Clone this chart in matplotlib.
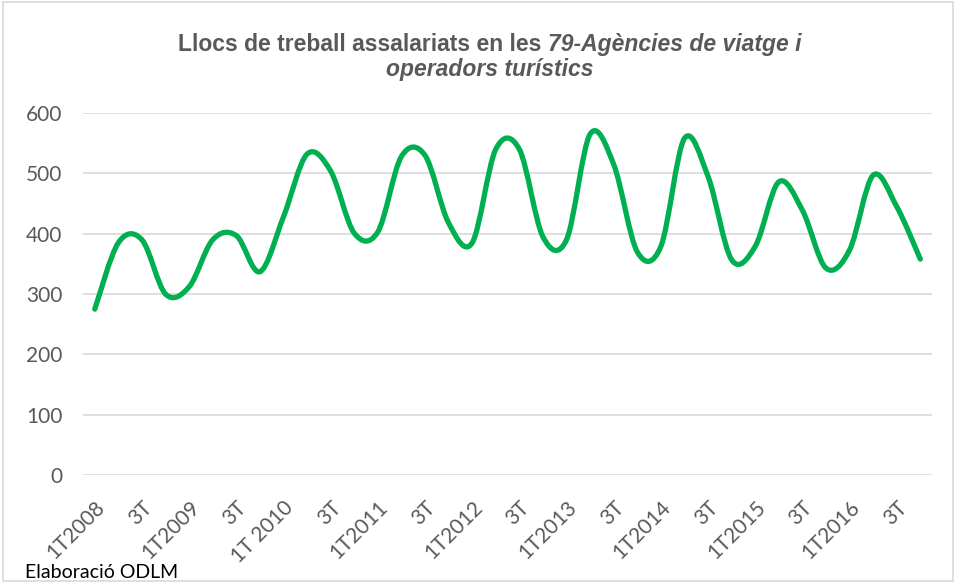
import numpy as np
import matplotlib
matplotlib.use("Agg")
import matplotlib.pyplot as plt
from matplotlib.path import Path
from matplotlib.patches import PathPatch, Rectangle

# ---------------------------------------------------------
# Dades (llocs de treball assalariats, trimestral 2008-2016)
# ---------------------------------------------------------
quarters = [f"{q}T{y}" for y in range(2008, 2017) for q in range(1, 5)]
values = [275, 385, 390, 300,
          312, 390, 397, 337,
          428, 532, 504, 401,
          403, 528, 530, 418,
          385, 540, 540, 395,
          390, 565, 515, 370,
          379, 558, 495, 357,
          379, 486, 439, 343,
          373, 497, 445, 358]
tick_labels = ["1T2008", "3T", "1T2009", "3T", "1T 2010", "3T", "1T2011", "3T",
               "1T2012", "3T", "1T2013", "3T", "1T2014", "3T", "1T2015", "3T",
               "1T2016", "3T"]

GREEN = "#00B050"
GREY = "#595959"
GRID = "#D9D9D9"

fig = plt.figure(figsize=(9.56, 5.83), dpi=100)
ax = fig.add_axes([0.0868, 0.1852, 0.8882, 0.6208])

# línia suavitzada (Bezier, com l'opció "smoothed line" d'Excel)
x = np.arange(len(values), dtype=float)
y = np.array(values, dtype=float)
verts = [(x[0], y[0])]
codes = [Path.MOVETO]
n = len(x)
for i in range(n - 1):
    p0 = np.array([x[max(i - 1, 0)], y[max(i - 1, 0)]])
    p1 = np.array([x[i], y[i]])
    p2 = np.array([x[i + 1], y[i + 1]])
    p3 = np.array([x[min(i + 2, n - 1)], y[min(i + 2, n - 1)]])
    c1 = p1 + (p2 - p0) / 6
    c2 = p2 - (p3 - p1) / 6
    verts += [tuple(c1), tuple(c2), tuple(p2)]
    codes += [Path.CURVE4] * 3
ax.add_patch(PathPatch(Path(verts, codes), facecolor="none", edgecolor=GREEN,
                       lw=3.8, capstyle="round", joinstyle="round", zorder=3))

ax.set_xlim(-0.5, len(values) - 0.5)
ax.set_ylim(0, 600)
ax.set_yticks(range(0, 601, 100))
ax.set_xticks(range(0, len(values), 2))
ax.set_xticklabels(tick_labels, rotation=45, ha="right", rotation_mode="anchor",
                   fontfamily="Lato", fontsize=15, color=GREY)
for lab in ax.get_yticklabels():
    lab.set_fontfamily("Lato")
    lab.set_fontsize(15)
    lab.set_color(GREY)
ax.tick_params(axis="both", length=0)
ax.tick_params(axis="y", pad=15)
ax.tick_params(axis="x", pad=16)
ax.grid(axis="y", color=GRID, lw=1.2)
ax.set_axisbelow(True)
for s in ax.spines.values():
    s.set_visible(False)

# vora del gràfic
fig.patches.append(Rectangle((0.003, 0.003), 0.994, 0.994, transform=fig.transFigure,
                             fill=False, edgecolor=GRID, lw=1.2))

# títol amb part en cursiva
renderer = fig.canvas.get_renderer()
title_kw = dict(fontfamily="Liberation Sans", fontsize=16.5, fontweight="bold", color=GREY)
lines = [[("Llocs de treball assalariats en les ", "normal"),
          ("79-Agències de viatge i", "italic")],
         [("operadors turístics", "italic")]]
cx = 490 / 956
for parts, ypix in zip(lines, [51, 76]):
    texts = [fig.text(0, 1 - ypix / 583, s, style=st, **title_kw) for s, st in parts]
    widths = [t.get_window_extent(renderer).width for t in texts]
    xpos = cx - sum(widths) / 956 / 2
    for t, w in zip(texts, widths):
        t.set_x(xpos)
        xpos += w / 956

fig.text(25 / 956, 1 - 578 / 583, "Elaboració ODLM", fontfamily="Lato",
         fontsize=14, color="black")

fig.savefig("out.png", dpi=100)
